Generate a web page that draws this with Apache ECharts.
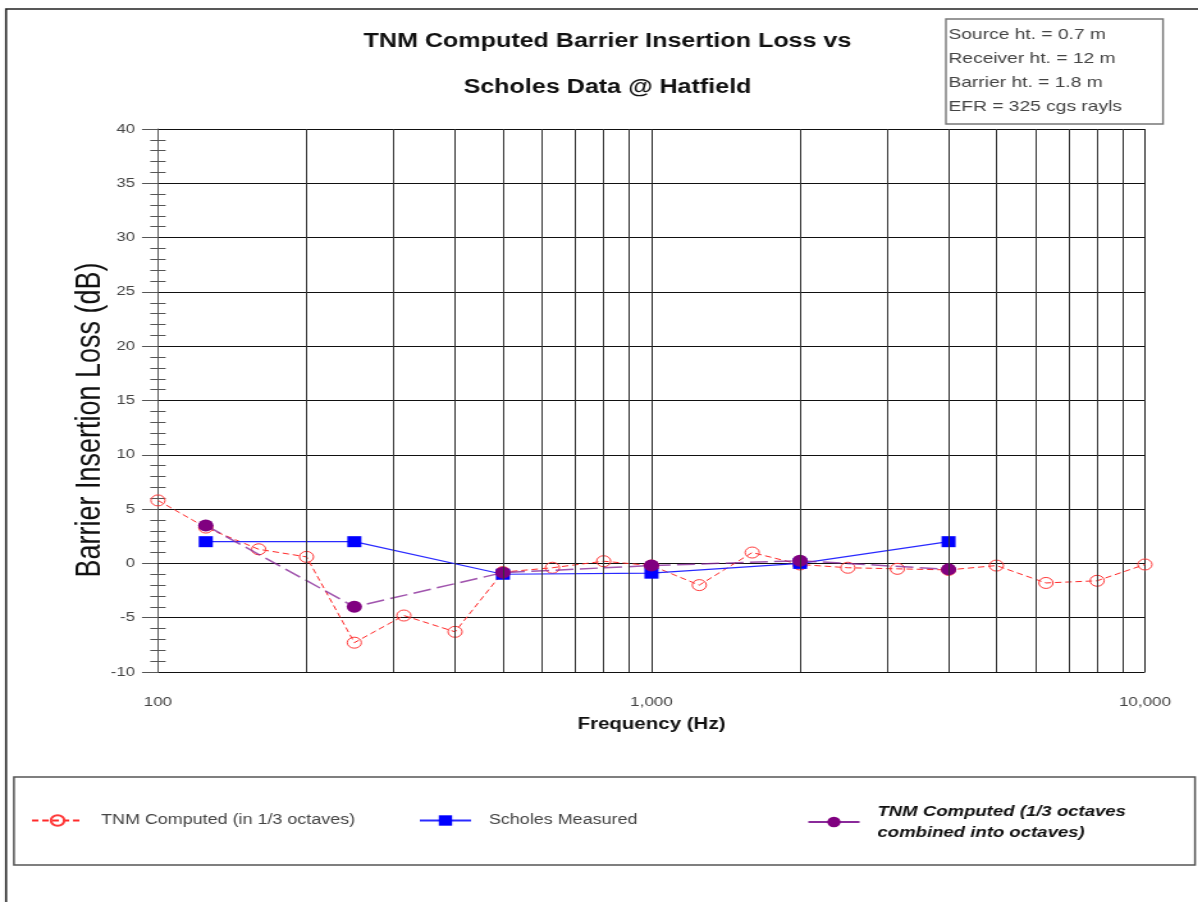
<!DOCTYPE html>
<html>
<head>
<meta charset="utf-8">
<script src="https://cdn.jsdelivr.net/npm/echarts@6/dist/echarts.min.js"></script>
<style>
html,body{margin:0;padding:0;background:#fff;overflow:hidden;}
#c{width:936px;height:902px;transform:scaleX(1.28);transform-origin:0 0;}
</style>
</head>
<body>
<div id="c"></div>
<script>
// ---- data ----
const thirdOctaveFreqs = [100,125,160,200,250,315,400,500,630,800,1000,1250,1600,2000,2500,3150,4000,5000,6300,8000,10000];
const tnmThirdOctave   = [5.8,3.3,1.3,0.6,-7.3,-4.8,-6.3,-0.8,-0.4,0.2,-0.2,-2.0,1.0,-0.1,-0.4,-0.5,-0.6,-0.2,-1.8,-1.6,-0.1];
const octaveFreqs      = [125,250,500,1000,2000,4000];
const scholesMeasured  = [2.0,2.0,-1.0,-0.9,0.0,2.0];
const tnmOctave        = [3.5,-4.0,-0.85,-0.2,0.25,-0.55];
const xTickValues      = [100,1000,10000];
const xTickLabels      = ['100','1,000','10,000'];
const minorGridFreqs   = [200,300,400,500,600,700,800,900,2000,3000,4000,5000,6000,7000,8000,9000];
const infoLines        = ['Source ht. = 0.7 m','Receiver ht. = 12 m','Barrier ht. = 1.8 m','EFR = 325 cgs rayls'];
const seriesNames      = ['TNM Computed (in 1/3 octaves)','Scholes Measured','TNM Computed (1/3 octaves\ncombined into octaves)'];

const FONT = 'Liberation Sans, Arial, sans-serif';
const zip = (xs, ys) => xs.map((x, i) => [x, ys[i]]);
const allTickFreqs = xTickValues.concat(minorGridFreqs).sort((a, b) => a - b);

const chart = echarts.init(document.getElementById('c'));
const option = {
  animation: false,
  backgroundColor: '#ffffff',
  title: {
    text: 'TNM Computed Barrier Insertion Loss vs\nScholes Data @ Hatfield',
    left: 474.6, top: 19, padding: 0, textAlign: 'center',
    textStyle: { fontFamily: FONT, fontWeight: 'bold', fontSize: 19.6, lineHeight: 46, color: '#111' }
  },
  grid: { left: 123.4, right: 41.5, top: 129, bottom: 230, containLabel: false },
  xAxis: {
    type: 'log', logBase: 10, min: 100, max: 10000,
    name: 'Frequency (Hz)', nameLocation: 'middle', nameGap: 45,
    nameTextStyle: { fontFamily: FONT, fontWeight: 'bold', fontSize: 16, color: '#111' },
    axisLine: { show: true, lineStyle: { color: '#111', width: 1 } },
    axisTick: { show: true, length: 9, customValues: allTickFreqs, lineStyle: { color: '#333' } },
    axisLabel: {
      margin: 24, fontFamily: FONT, fontSize: 13.3, color: '#444',
      customValues: xTickValues,
      formatter: v => {
        let best = 0;
        xTickValues.forEach((t, i) => { if (Math.abs(Math.log10(t) - Math.log10(v)) < Math.abs(Math.log10(xTickValues[best]) - Math.log10(v))) best = i; });
        return xTickLabels[best];
      }
    },
    splitLine: { show: true, lineStyle: { color: '#222', width: 1 } }
  },
  yAxis: [{
    type: 'value', min: -10, max: 40, interval: 5,
    axisLine: { show: true, lineStyle: { color: '#555', width: 1 } },
    axisTick: { show: true, length: 12.5, lineStyle: { color: '#555' } },
    minorTick: { show: true, splitNumber: 5, length: 6, lineStyle: { color: '#555' } },
    axisLabel: { margin: 18, fontFamily: FONT, fontSize: 13, color: '#444' },
    splitLine: { show: true, lineStyle: { color: '#111', width: 1 } }
  }, {
    type: 'value', min: -10, max: 40, interval: 5, position: 'left',
    axisLine: { show: false },
    axisTick: { show: false, inside: true },
    minorTick: { show: true, splitNumber: 5, length: 6, lineStyle: { color: '#555' } },
    axisLabel: { show: false },
    splitLine: { show: false }
  }],
  legend: [{
    left: 24, top: 813.5, padding: 0, itemWidth: 40, itemHeight: 13, data: [seriesNames[0]],
    textStyle: { fontFamily: FONT, fontSize: 14, color: '#444', padding: [0, 0, 0, 9] }
  }, {
    left: 327, top: 813.5, padding: 0, itemWidth: 40, itemHeight: 13, data: [seriesNames[1]],
    textStyle: { fontFamily: FONT, fontSize: 14, color: '#444', padding: [0, 0, 0, 9] }
  }, {
    left: 630.5, top: 801, padding: 0, itemWidth: 40, itemHeight: 13, data: [seriesNames[2]],
    lineStyle: { type: 'solid', opacity: 1 },
    textStyle: { fontFamily: FONT, fontSize: 14.5, fontStyle: 'italic', fontWeight: 'bold', lineHeight: 21, color: '#111', padding: [0, 0, 0, 9] }
  }],
  series: [{
    name: seriesNames[0], type: 'line', z: 2,
    data: zip(thirdOctaveFreqs, tnmThirdOctave),
    symbol: 'circle', symbolSize: 11,
    lineStyle: { color: '#ff2a2a', width: 1, type: [5, 3] },
    itemStyle: { color: 'rgba(255,255,255,0)', borderColor: '#ff3a3a', borderWidth: 1 },
    markLine: {
      silent: true, symbol: ['none', 'none'], label: { show: false },
      lineStyle: { color: '#333', width: 1, type: 'solid' },
      emphasis: { disabled: true },
      data: minorGridFreqs.map(f => ({ xAxis: f }))
    }
  }, {
    name: seriesNames[1], type: 'line', z: 3,
    data: zip(octaveFreqs, scholesMeasured),
    symbol: 'rect', symbolSize: 11,
    lineStyle: { color: '#2a2aff', width: 1.2 },
    itemStyle: { color: '#0000ff' }
  }, {
    name: seriesNames[2], type: 'line', z: 4,
    data: zip(octaveFreqs, tnmOctave),
    symbol: 'circle', symbolSize: 12,
    lineStyle: { color: '#8a2a9a', width: 1.5, type: [14, 5], opacity: 0.8 },
    itemStyle: { color: '#800080' }
  }],
  graphic: [{
    type: 'rect', silent: true, z: 100,
    shape: { x: 4.7, y: 9, width: 1200, height: 1200 },
    style: { fill: 'none', stroke: '#222', lineWidth: 1.6 }
  }, {
    type: 'rect', silent: true, z: 100,
    shape: { x: 739, y: 19, width: 169.6, height: 105 },
    style: { fill: '#fff', stroke: '#777', lineWidth: 1.4 }
  }, {
    type: 'text', silent: true, z: 101,
    x: 741, y: 23,
    style: { text: infoLines.join('\n'), font: '15px ' + FONT, lineHeight: 24, fill: '#444', align: 'left', verticalAlign: 'top' }
  }, {
    type: 'text', silent: true, z: 101,
    x: 70.3, y: 420, rotation: Math.PI / 2,
    style: { text: 'Barrier Insertion Loss (dB)', font: '27px ' + FONT, fill: '#111', align: 'center', verticalAlign: 'middle' }
  }, {
    type: 'rect', silent: true, z: 100,
    shape: { x: 10.9, y: 777, width: 922.7, height: 88 },
    style: { fill: 'none', stroke: '#555', lineWidth: 1.5 }
  }]
};
chart.setOption(option);
</script>
</body>
</html>
